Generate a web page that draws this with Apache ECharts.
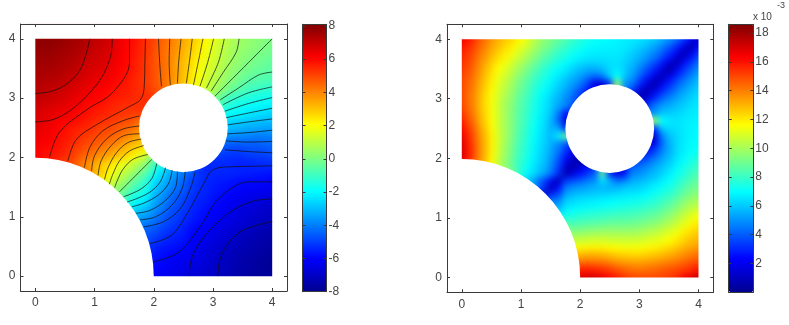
<!DOCTYPE html>
<html><head><meta charset="utf-8">
<style>html,body{margin:0;padding:0;background:#fff}
#f,#c{position:absolute;left:0;top:0;width:789px;height:325px}
#f{filter:blur(3px)}</style>
<script src="https://cdn.jsdelivr.net/npm/echarts@6/dist/echarts.min.js"></script>
</head><body><div id="f"></div><div id="c"></div>
<script>
const _ = null;
const axisTicks = [0, 1, 2, 3, 4];
const leftBarTicks = [-8, -6, -4, -2, 0, 2, 4, 6, 8];
const rightBarTicks = [2, 4, 6, 8, 10, 12, 14, 16, 18];
const jet = ['#00008f','#0000ff','#0080ff','#00ffff','#80ff80','#ffff00','#ff8000','#ff0000','#800000'];
const cellStep = 0.125;
const edgeBleed = 0.1;
const holes = [[0, 0, 2], [2.5, 2.5, 0.75]];
const frame = [[-0.25,-0.25,0,4.25],[4,-0.25,4.25,4.25],[-0.25,4,4.25,4.25],[-0.25,-0.25,4.25,0]];
// potential field, rows from y=4 down to y=0, columns x=0..4
const leftRows = [
[7.8,7.9,7.9,7.8,7.7,7.6,7.5,7.3,7.1,7.0,6.8,6.5,6.2,6.0,5.7,5.3,5.1,4.6,4.3,3.9,3.4,3.1,2.6,2.1,1.8,1.3,1.0,.7,.5,.3,.2,.1,0],
[7.8,7.8,7.8,7.7,7.6,7.5,7.4,7.2,7.0,6.9,6.7,6.4,6.2,5.9,5.6,5.3,5.0,4.5,4.2,3.8,3.3,3.0,2.5,2.0,1.6,1.2,.9,.6,.4,.3,.15,0,-.1],
[7.7,7.7,7.7,7.6,7.5,7.4,7.3,7.1,6.9,6.8,6.6,6.4,6.1,5.9,5.6,5.3,4.9,4.5,4.1,3.7,3.2,2.8,2.4,1.9,1.5,1.1,.8,.5,.3,.15,0,-.1,-.2],
[7.6,7.6,7.6,7.5,7.4,7.3,7.1,6.9,6.8,6.7,6.5,6.3,6.1,5.8,5.5,5.2,4.9,4.5,4.1,3.6,3.1,2.7,2.2,1.8,1.4,1.0,.7,.4,.2,0,-.15,-.3,-.4],
[7.5,7.5,7.5,7.4,7.3,7.2,7.0,6.8,6.7,6.6,6.4,6.2,6.0,5.8,5.5,5.2,4.9,4.5,4.1,3.6,3.1,2.6,2.1,1.6,1.3,.9,.5,.3,0,-.15,-.3,-.4,-.5],
[7.4,7.4,7.3,7.3,7.1,7.0,6.8,6.7,6.5,6.4,6.3,6.1,5.9,5.7,5.4,5.2,4.9,4.5,4.1,3.6,3.0,2.5,2.0,1.5,1.1,.7,.4,.1,-.2,-.4,-.5,-.6,-.7],
[7.3,7.2,7.2,7.1,7.0,6.8,6.7,6.5,6.4,6.3,6.1,6.0,5.8,5.6,5.4,5.2,4.9,4.5,4.0,3.5,3.0,2.4,1.9,1.4,.9,.5,.2,-.2,-.5,-.7,-.8,-.9,-1.0],
[7.2,7.1,7.0,7.0,6.8,6.7,6.5,6.4,6.2,6.1,6.0,5.8,5.7,5.6,5.4,5.3,5.0,4.7,4.2,3.7,3.1,2.4,1.8,1.2,.8,.3,-.2,-.5,-.8,-1.0,-1.2,-1.3,-1.3],
[7.0,7.0,6.9,6.8,6.7,6.5,6.4,6.2,6.1,6.0,5.8,5.7,5.6,5.5,5.4,5.4,5.3,5.2,4.8,_,_,_,1.2,.6,.1,-.4,-.9,-1.2,-1.3,-1.5,-1.6,-1.7,-1.8],
[6.9,6.8,6.7,6.6,6.5,6.3,6.2,6.0,5.9,5.8,5.6,5.5,5.4,5.4,5.4,5.4,5.4,_,_,_,_,_,_,_,-.5,-1,-1.4,-1.6,-1.8,-1.9,-2,-2.1,-2.1],
[6.8,6.6,6.5,6.4,6.3,6.2,6.0,5.9,5.7,5.6,5.5,5.4,5.3,5.2,5.2,5.1,5,_,_,_,_,_,_,_,-1,-1.5,-1.8,-2,-2.1,-2.3,-2.4,-2.5,-2.6],
[6.7,6.5,6.4,6.2,6.1,6,5.9,5.7,5.5,5.4,5.3,5.1,5,4.9,4.4,4.3,_,_,_,_,_,_,_,_,_,-2.2,-2.4,-2.6,-2.7,-2.8,-2.9,-3,-3],
[6.6,6.4,6.3,6.1,5.9,5.7,5.6,5.5,5.3,5.1,5,4.8,4.6,4.4,4.1,3.9,_,_,_,_,_,_,_,_,_,-2.8,-3,-3.1,-3.2,-3.3,-3.3,-3.4,-3.4],
[6.4,6.3,6.2,6,5.8,5.6,5.4,5.2,5,4.9,4.7,4.5,4.2,3.9,3.6,3.3,_,_,_,_,_,_,_,_,_,-3.5,-3.7,-3.8,-3.8,-3.9,-4,-4,-3.9],
[6.3,6.2,6.1,5.9,5.7,5.5,5.3,5,4.8,4.6,4.3,4.1,3.7,3.4,3.1,2.9,2.7,_,_,_,_,_,_,_,-3.9,-4.2,-4.3,-4.4,-4.4,-4.4,-4.4,-4.3,-4.3],
[6.2,6,5.9,5.8,5.6,5.3,5,4.7,4.4,4.1,3.8,3.5,3.2,2.8,2.4,2.2,1,_,_,_,_,_,_,_,-4.5,-4.8,-4.9,-5,-4.9,-4.8,-4.8,-4.7,-4.6],
[6.1,6,5.8,5.6,5.4,5.1,4.7,4.3,4,3.6,3.3,3,2.6,2.2,1.6,.9,0,-1,-1.8,_,_,_,-5,-5.1,-5.2,-5.2,-5.3,-5.3,-5.3,-5.2,-5.1,-5.1,-5],
[6,5.9,5.7,5.4,5.1,4.8,4.3,3.9,3.4,2.9,2.5,2,1.6,1.2,.6,0,-.9,-1.6,-2.9,-3.3,-3.9,-4.3,-5,-5.4,-5.4,-5.4,-5.4,-5.5,-5.5,-5.5,-5.4,-5.4,-5.3],
[_,_,_,_,5.5,5.1,4.6,4,3.4,2.8,2.1,1.6,1.1,.6,0,-.6,-1.6,-2.4,-3.1,-3.6,-4.1,-4.4,-5.2,-5.4,-5.4,-5.4,-5.4,-5.4,-5.5,-5.5,-5.6,-5.6,-5.7],
[_,_,_,_,_,_,_,3.4,2.9,2.4,1.7,1.2,.6,0,-.6,-1.2,-2.2,-2.8,-3.4,-3.9,-4.4,-4.9,-5.2,-5.4,-5.5,-5.6,-5.6,-5.7,-5.8,-5.8,-5.9,-5.9,-6],
[_,_,_,_,_,_,_,_,_,1.8,1.1,.5,0,-.6,-1.1,-1.6,-2.6,-3.2,-3.7,-4.2,-4.6,-5,-5.3,-5.4,-5.6,-5.7,-5.8,-5.9,-6,-6.1,-6.1,-6.2,-6.2],
[_,_,_,_,_,_,_,_,_,_,.7,0,-.5,-1.2,-1.6,-2,-3,-3.5,-4.1,-4.5,-4.8,-5.1,-5.4,-5.5,-5.7,-5.8,-6,-6.1,-6.2,-6.3,-6.4,-6.4,-6.5],
[_,_,_,_,_,_,_,_,_,_,_,-.7,-1.1,-1.7,-2.1,-2.5,-3.3,-3.8,-4.3,-4.7,-5,-5.3,-5.5,-5.6,-5.8,-6,-6.1,-6.3,-6.4,-6.5,-6.6,-6.7,-6.8],
[_,_,_,_,_,_,_,_,_,_,_,_,-1.8,-2.4,-2.8,-3.1,-3.6,-4.1,-4.6,-4.9,-5.1,-5.4,-5.6,-5.8,-6,-6.1,-6.3,-6.4,-6.6,-6.7,-6.8,-6.9,-7],
[_,_,_,_,_,_,_,_,_,_,_,_,_,-2.9,-3.4,-3.6,-4,-4.4,-4.8,-5,-5.3,-5.5,-5.7,-5.9,-6.1,-6.2,-6.4,-6.5,-6.7,-6.8,-6.9,-7,-7.1],
[_,_,_,_,_,_,_,_,_,_,_,_,_,-3.4,-4,-4.2,-4.4,-4.7,-5,-5.2,-5.5,-5.7,-5.9,-6,-6.2,-6.4,-6.5,-6.7,-6.8,-6.9,-7.1,-7.2,-7.3],
[_,_,_,_,_,_,_,_,_,_,_,_,_,_,-4.6,-4.5,-4.7,-5,-5.3,-5.4,-5.6,-5.9,-6,-6.2,-6.4,-6.5,-6.7,-6.8,-7,-7.1,-7.3,-7.4,-7.5],
[_,_,_,_,_,_,_,_,_,_,_,_,_,_,-4.8,-4.8,-5.1,-5.3,-5.5,-5.6,-5.7,-6,-6.2,-6.3,-6.5,-6.7,-6.8,-7,-7.2,-7.3,-7.4,-7.5,-7.6],
[_,_,_,_,_,_,_,_,_,_,_,_,_,_,-5.1,-5.1,-5.4,-5.6,-5.7,-5.8,-5.9,-6.1,-6.3,-6.5,-6.7,-6.8,-7,-7.1,-7.3,-7.4,-7.5,-7.6,-7.7],
[_,_,_,_,_,_,_,_,_,_,_,_,_,_,_,-5.4,-5.6,-5.8,-5.9,-6,-6.1,-6.2,-6.4,-6.6,-6.8,-7,-7.1,-7.3,-7.4,-7.5,-7.6,-7.7,-7.8],
[_,_,_,_,_,_,_,_,_,_,_,_,_,_,_,-5.7,-5.8,-5.9,-6.1,-6.2,-6.3,-6.4,-6.5,-6.7,-6.9,-7,-7.2,-7.3,-7.5,-7.6,-7.7,-7.8,-7.9],
[_,_,_,_,_,_,_,_,_,_,_,_,_,_,_,-5.9,-6,-6,-6.2,-6.3,-6.4,-6.5,-6.6,-6.8,-7,-7.1,-7.2,-7.4,-7.5,-7.6,-7.7,-7.8,-7.9],
[_,_,_,_,_,_,_,_,_,_,_,_,_,_,_,-6,-6.1,-6.2,-6.3,-6.4,-6.6,-6.7,-6.8,-6.9,-7,-7.2,-7.3,-7.5,-7.6,-7.7,-7.8,-7.8,-7.8]
];
// magnitude field (units of 1e-3), rows from y=4 down to y=0
const rightRows = [
[16.5,16,15,14.3,13.5,13,12.6,12.2,11.6,11,10.2,9.6,9.2,8.8,8.4,8,7.6,7.3,7.1,7,6.9,6.8,6.7,6.6,6.5,6.3,6,5.6,5,4.3,3.4,2.3,1],
[16,15.5,14.8,14,13.3,12.8,12.3,11.8,11.2,10.6,10,9.4,8.9,8.4,8,7.6,7.3,7,6.9,6.8,6.8,6.7,6.6,6.4,6.1,5.8,5.3,4.7,4,3.1,2,.6,2.3],
[15.7,15.2,14.5,13.7,13,12.4,11.9,11.3,10.7,10.1,9.5,8.9,8.4,7.9,7.5,7.2,6.9,6.7,6.6,6.6,6.6,6.6,6.4,6.1,5.7,5.3,4.7,4,3.1,2,.6,2,3.4],
[15.5,15,14.2,13.4,12.6,12,11.4,10.8,10.2,9.6,9,8.4,7.9,7.5,7.1,6.8,6.5,6.3,6.3,6.3,6.4,6.4,6.2,5.8,5.3,4.7,4,3,1.9,.5,2,3.1,4.3],
[15.3,14.8,14,13.1,12.3,11.6,11,10.4,9.7,9.1,8.5,7.9,7.4,7,6.6,6.2,5.8,5.5,5.5,5.8,6.3,6.6,6.1,5.5,4.7,3.9,3,1.9,.5,1.9,3.1,4,5],
[15.1,14.6,13.8,12.9,12,11.3,10.7,10,9.3,8.7,8.1,7.6,7.1,6.6,6.1,5.7,5.2,4.6,4.1,4.5,6,7,6,5.1,4.1,3,1.9,.5,1.9,3,3.9,4.7,5.6],
[15,14.4,13.6,12.7,11.8,11.1,10.4,9.7,9,8.4,7.8,7.3,6.8,6.2,5.7,5.2,4.5,3.4,1.8,1.5,3,10,5,4.5,3,1.8,.6,1.9,3,4,4.7,5.3,6],
[15,14.3,13.5,12.5,11.7,10.9,10.2,9.5,8.8,8.2,7.6,7,6.5,5.9,5.3,4.6,3.6,2.6,1.6,1,3,8,5,3,1.4,.5,1.8,3,3.9,4.7,5.3,5.8,6.3],
[15,14.2,13.4,12.4,11.5,10.8,10,9.3,8.6,8,7.4,6.8,6.2,5.6,4.9,4.2,3.4,2.6,2,_,_,_,2,2,1,1.4,3,4.1,4.7,5.3,5.7,6.1,6.5],
[15.1,14.3,13.4,12.4,11.5,10.7,9.9,9.2,8.5,7.9,7.3,6.7,6.1,5.4,4.7,3.9,3,_,_,_,_,_,_,_,1.5,3,4.5,5.1,5.5,5.8,6.1,6.4,6.6],
[15.4,14.5,13.5,12.5,11.5,10.7,9.9,9.1,8.4,7.8,7.2,6.6,6,4.6,2.5,2.5,2.5,_,_,_,_,_,_,_,2,5,5,6,6.1,6.2,6.4,6.6,6.7],
[15.8,14.8,13.7,12.6,11.6,10.7,9.9,9.1,8.4,7.7,7.1,6.5,5.7,4.3,1.5,3,_,_,_,_,_,_,_,_,_,8,10,7,6.6,6.4,6.6,6.7,6.8],
[16.2,15.2,14,12.8,11.7,10.7,9.9,9.1,8.3,7.6,7,6.4,5.6,5.5,3,5,_,_,_,_,_,_,_,_,_,3,3,6,6.3,6.4,6.6,6.8,6.9],
[16.6,15.5,14.2,13,11.8,10.8,9.9,9,8.2,7.5,6.9,6.3,5.7,6.5,9,7,_,_,_,_,_,_,_,_,_,1.5,1.5,4.5,5.8,6.3,6.6,6.8,7],
[17,15.7,14.3,13.1,11.8,10.8,9.8,8.9,8.1,7.4,6.8,6.2,5.6,4.9,4,3,3,_,_,_,_,_,_,_,2,1.6,1.8,4.1,5.5,6.3,6.6,6.9,7.1],
[17.1,15.8,14.4,13.1,11.8,10.7,9.7,8.8,8,7.3,6.7,6.1,5.4,4.5,3.2,2.2,1.2,_,_,_,_,_,_,_,2.6,2.6,3.4,4.6,5.5,6.3,6.7,7,7.3],
[17,15.8,14.3,13,11.7,10.6,9.6,8.7,7.9,7.2,6.6,6,5.2,4,2.5,1.2,.5,1.2,3,_,_,_,2.5,3,3.4,3.6,4.5,5.2,5.8,6.5,6.9,7.3,7.6],
[16,15,14,13,11.6,10.4,9.4,8.5,7.7,7,6.4,5.8,5,3.6,1.5,.5,1.2,2.2,3,7,5,3,2.5,3.9,4.2,4.6,5.2,5.7,6.2,6.8,7.2,7.6,8],
[_,_,_,_,12,11,10,9,7.6,6.8,6.2,5.5,4.6,3.2,.6,1.5,2.5,3.2,4,9,3,1.5,2.5,4.7,4.9,5.3,5.7,6.1,6.6,7.1,7.5,8,8.4],
[_,_,_,_,_,_,_,8,7,6,5,3.8,2.5,.7,3.2,3.6,4,4.5,4.9,6.5,5.5,4.3,4.6,5.4,5.6,5.9,6.2,6.6,7,7.5,7.9,8.4,8.8],
[_,_,_,_,_,_,_,_,_,6,5,3.2,.8,2.5,4.6,5,5.2,5.4,5.6,5.7,5.6,5.7,6,6.1,6.2,6.5,6.8,7.1,7.4,7.9,8.4,8.9,9.2],
[_,_,_,_,_,_,_,_,_,_,3,1,3.2,3.8,5.5,5.8,6,6.1,6.2,6.3,6.4,6.5,6.6,6.7,6.8,7,7.3,7.6,7.9,8.4,8.9,9.4,9.6],
[_,_,_,_,_,_,_,_,_,_,_,3,5,5,6.2,6.4,6.6,6.7,6.8,6.9,7,7.1,7.2,7.3,7.4,7.6,7.8,8.1,8.5,9,9.5,10,10.2],
[_,_,_,_,_,_,_,_,_,_,_,_,6,6,6.8,7,7.2,7.3,7.4,7.5,7.6,7.7,7.8,7.9,8,8.2,8.4,8.7,9.1,9.6,10.1,10.6,11],
[_,_,_,_,_,_,_,_,_,_,_,_,_,7,7.6,7.7,7.9,8,8.1,8.2,8.3,8.4,8.4,8.5,8.6,8.8,9,9.3,9.7,10.2,10.7,11.2,11.6],
[_,_,_,_,_,_,_,_,_,_,_,_,_,8,9,8.5,8.7,8.8,8.9,9,9.1,9.1,9.1,9.2,9.3,9.5,9.7,10,10.4,10.8,11.3,11.8,12.2],
[_,_,_,_,_,_,_,_,_,_,_,_,_,_,10,9.4,9.6,9.7,9.8,9.9,9.9,9.9,9.9,9.9,10,10.2,10.4,10.7,11,11.4,11.9,12.3,12.6],
[_,_,_,_,_,_,_,_,_,_,_,_,_,_,11,10.4,10.6,10.7,10.8,10.8,10.7,10.7,10.7,10.7,10.8,10.9,11.1,11.3,11.6,12,12.4,12.8,13],
[_,_,_,_,_,_,_,_,_,_,_,_,_,_,12,11.6,11.7,11.8,11.8,11.8,11.7,11.6,11.5,11.5,11.5,11.7,11.8,12,12.3,12.6,13,13.3,13.5],
[_,_,_,_,_,_,_,_,_,_,_,_,_,_,_,13,13,13.1,13.1,13,12.8,12.6,12.5,12.4,12.4,12.5,12.7,12.9,13.1,13.4,13.7,14,14.3],
[_,_,_,_,_,_,_,_,_,_,_,_,_,_,_,14,14.3,14.4,14.3,14.2,14,13.7,13.5,13.4,13.4,13.5,13.6,13.8,14,14.2,14.5,14.8,15],
[_,_,_,_,_,_,_,_,_,_,_,_,_,_,_,15,15.8,15.8,15.7,15.5,15.2,14.8,14.5,14.3,14.2,14.3,14.4,14.6,14.8,15,15.2,15.5,16],
[_,_,_,_,_,_,_,_,_,_,_,_,_,_,_,16,17,17.1,17,16.6,16.2,15.8,15.4,15.1,15,15,15,15.1,15.3,15.5,16.4,16.8,17.5]
];
const contourLines = [
[[.92,4],[.86,3.75],[.74,3.45],[.5,3.22],[.25,3.11],[0,3.08]],
[[1.3,4],[1.27,3.7],[1.12,3.35],[.88,3.05],[.6,2.8],[.3,2.64],[0,2.6]],
[[1.59,4],[1.59,3.6],[1.31,3.1],[.86,2.8],[.41,2.43],[.24,2]],
[[1.86,4],[1.85,3.6],[1.84,3.2],[1.78,2.98],[1.59,2.86],[1.03,2.55],[.69,2.3],[.55,1.94]],
[[1.76,2.7],[1.48,2.62],[1.14,2.45],[.92,2.17],[.83,1.83]],
[[1.76,2.53],[1.48,2.48],[1.2,2.31],[1,2.03],[.95,1.77]],
[[1.76,2.4],[1.5,2.37],[1.28,2.2],[1.11,1.94],[1.06,1.7]],
[[1.79,2.31],[1.56,2.25],[1.37,2.08],[1.23,1.83],[1.17,1.63]],
[[1.83,2.2],[1.59,2.11],[1.42,1.94],[1.31,1.72],[1.25,1.55]],
[[1.9,2.05],[1.65,1.97],[1.48,1.8],[1.38,1.6],[1.34,1.49]],
[[2.08,4],[2.1,3.6],[2.13,3.2]],
[[2.27,4],[2.26,3.6],[2.28,3.22]],
[[2.46,4],[2.42,3.6],[2.4,3.25]],
[[2.65,4],[2.6,3.6],[2.55,3.25]],
[[2.83,4],[2.75,3.6],[2.67,3.22]],
[[3.01,4],[2.91,3.6],[2.78,3.2]],
[[3.19,4],[3.09,3.6],[2.89,3.17]],
[[3.44,4],[3.39,3.77],[3.17,3.43],[2.97,3.12]],
[[3.03,3.03],[4,4]],
[[1.42,1.42],[1.97,1.97]],
[[4,.92],[3.75,.86],[3.45,.74],[3.22,.5],[3.11,.25],[3.08,0]],
[[4,1.3],[3.7,1.27],[3.35,1.12],[3.05,.88],[2.8,.6],[2.64,.3],[2.6,0]],
[[4,1.59],[3.6,1.59],[3.1,1.31],[2.8,.86],[2.43,.41],[2,.24]],
[[4,1.86],[3.6,1.85],[3.2,1.84],[2.98,1.78],[2.86,1.59],[2.55,1.03],[2.3,.69],[1.94,.55]],
[[2.7,1.76],[2.62,1.48],[2.45,1.14],[2.17,.92],[1.83,.83]],
[[2.53,1.76],[2.48,1.48],[2.31,1.2],[2.03,1],[1.77,.95]],
[[2.4,1.76],[2.37,1.5],[2.2,1.28],[1.94,1.11],[1.7,1.06]],
[[2.31,1.79],[2.25,1.56],[2.08,1.37],[1.83,1.23],[1.63,1.17]],
[[2.2,1.83],[2.11,1.59],[1.94,1.42],[1.72,1.31],[1.55,1.25]],
[[2.05,1.9],[1.97,1.65],[1.8,1.48],[1.6,1.38],[1.49,1.34]],
[[4,2.08],[3.6,2.1],[3.2,2.13]],
[[4,2.27],[3.6,2.26],[3.22,2.28]],
[[4,2.46],[3.6,2.42],[3.25,2.4]],
[[4,2.65],[3.6,2.6],[3.25,2.55]],
[[4,2.83],[3.6,2.75],[3.22,2.67]],
[[4,3.01],[3.6,2.91],[3.2,2.78]],
[[4,3.19],[3.6,3.09],[3.17,2.89]],
[[4,3.44],[3.77,3.39],[3.43,3.17],[3.12,2.97]]
];

function cellsFrom(rows) {
  const out = [];
  rows.forEach((row, r) => row.forEach((v, c) => {
    if (v !== null) out.push([c * cellStep, 4 - r * cellStep, v]);
  }));
  return out;
}
function renderCell(params, api) {
  const h = cellStep / 2, x = api.value(0), y = api.value(1);
  const x0 = x - h - (x === 0 ? edgeBleed : 0), x1 = x + h + (x === 4 ? edgeBleed : 0);
  const y0 = y - h - (y === 0 ? edgeBleed : 0), y1 = y + h + (y === 4 ? edgeBleed : 0);
  const a = api.coord([x0, y1]), b = api.coord([x1, y0]);
  const left = Math.round(a[0]), top = Math.round(a[1]);
  return { type: 'rect', shape: { x: left, y: top, width: Math.round(b[0]) - left, height: Math.round(b[1]) - top },
           style: { fill: api.visual('color') } };
}
function renderHole(params, api) {
  const c = api.coord([api.value(0), api.value(1)]);
  return { type: 'circle', shape: { cx: c[0], cy: c[1], r: api.size([api.value(2), 0])[0] }, style: { fill: '#fff' } };
}
function renderFrame(params, api) {
  const a = api.coord([api.value(0), api.value(3)]), b = api.coord([api.value(2), api.value(1)]);
  return { type: 'rect', shape: { x: a[0], y: a[1], width: b[0] - a[0], height: b[1] - a[1] }, style: { fill: '#fff' } };
}
const lineColor = '#3a3a3a', textColor = '#444';
const label = { color: textColor, fontFamily: 'Liberation Sans', fontSize: 12 };
function xAxes(g, ticks, min, max) {
  return [
    { gridIndex: g, type: 'value', position: 'bottom', min, max, z: 5, splitLine: { show: false },
      axisLine: { onZero: false, lineStyle: { color: lineColor } },
      axisTick: ticks ? { show: true, inside: true, length: 3, customValues: ticks, lineStyle: { color: lineColor } } : { show: false },
      axisLabel: ticks ? Object.assign({ show: true, margin: 6, customValues: ticks }, label) : { show: false } },
    { gridIndex: g, type: 'value', position: 'top', min, max, z: 5, splitLine: { show: false },
      axisLine: { onZero: false, lineStyle: { color: lineColor } },
      axisTick: ticks ? { show: true, inside: true, length: 3, customValues: ticks, lineStyle: { color: lineColor } } : { show: false },
      axisLabel: { show: false } }
  ];
}
function yAxes(g, ticks, min, max, bar) {
  return [
    { gridIndex: g, type: 'value', position: 'left', min, max, z: 5, splitLine: { show: false },
      axisLine: { onZero: false, lineStyle: { color: lineColor } },
      axisTick: { show: true, inside: true, length: 3, customValues: ticks, lineStyle: { color: lineColor } },
      axisLabel: bar ? { show: false } : Object.assign({ show: true, margin: 5, customValues: ticks }, label) },
    { gridIndex: g, type: 'value', position: 'right', min, max, z: 5, splitLine: { show: false },
      axisLine: { onZero: false, lineStyle: { color: lineColor } },
      axisTick: { show: true, inside: true, length: 3, customValues: ticks, lineStyle: { color: lineColor } },
      axisLabel: bar ? Object.assign({ show: true, inside: false, margin: 2, customValues: ticks }, label) : { show: false } }
  ];
}
const mainGrids = [
  { left: 20.5, top: 24, width: 266.5, height: 267 },
  { left: 447, top: 24.3, width: 266.3, height: 268 }
];
const barGrids = [
  { left: 302.5, top: 24.3, width: 24, height: 267.4 },
  { left: 728.7, top: 24.3, width: 24.6, height: 268 }
];
const base = { coordinateSystem: 'cartesian2d', silent: true, animation: false, clip: true };

// lower layer: the two value fields, softened by the CSS filter on its container
const hiddenAxis = g => ({ gridIndex: g, type: 'value', min: -0.25, max: 4.25, show: false });
const fieldChart = echarts.init(document.getElementById('f'), null, { renderer: 'canvas' });
fieldChart.setOption({
  animation: false,
  grid: mainGrids,
  xAxis: [hiddenAxis(0), hiddenAxis(1)],
  yAxis: [hiddenAxis(0), hiddenAxis(1)],
  visualMap: [
    { type: 'continuous', show: false, seriesIndex: 0, dimension: 2, min: -8, max: 8.1, inRange: { color: jet } },
    { type: 'continuous', show: false, seriesIndex: 1, dimension: 2, min: 0, max: 18.6, inRange: { color: jet } }
  ],
  series: [
    Object.assign({ type: 'custom', xAxisIndex: 0, yAxisIndex: 0, encode: { x: 0, y: 1 }, data: cellsFrom(leftRows), renderItem: renderCell }, base),
    Object.assign({ type: 'custom', xAxisIndex: 1, yAxisIndex: 1, encode: { x: 0, y: 1 }, data: cellsFrom(rightRows), renderItem: renderCell }, base)
  ]
});

// upper layer: masks, contours, axes, colour bars and text
const maskSeries = (ax, data, fn) => Object.assign({ type: 'custom', xAxisIndex: ax, yAxisIndex: ax, encode: { x: 0, y: 1 }, data, renderItem: fn, z: 3 }, base);
const leftLines = contourLines.map(pts => ({
  type: 'line', xAxisIndex: 0, yAxisIndex: 0, data: pts, smooth: 0.35, showSymbol: false, silent: true, z: 6,
  animation: false, lineStyle: { color: '#111', width: 0.8, opacity: 0.9 }
}));
const chart = echarts.init(document.getElementById('c'), null, { renderer: 'canvas' });
chart.setOption({
  backgroundColor: 'transparent',
  animation: false,
  grid: mainGrids.concat(barGrids),
  xAxis: [].concat(xAxes(0, axisTicks, -0.25, 4.25), xAxes(1, axisTicks, -0.25, 4.25), xAxes(2, null, 0, 1), xAxes(3, null, 0, 1)),
  yAxis: [].concat(yAxes(0, axisTicks, -0.25, 4.25, false), yAxes(1, axisTicks, -0.25, 4.25, false),
                   yAxes(2, leftBarTicks, -8, 8.1, true), yAxes(3, rightBarTicks, 0, 18.6, true)),
  visualMap: [
    { type: 'continuous', seriesIndex: [], min: -8, max: 8.1, calculable: false, padding: 0,
      left: 302.5, top: 24.3, itemWidth: 24, itemHeight: 267.4, inRange: { color: jet }, textStyle: { fontSize: 0 } },
    { type: 'continuous', seriesIndex: [], min: 0, max: 18.6, calculable: false, padding: 0,
      left: 728.7, top: 24.3, itemWidth: 24.6, itemHeight: 268, inRange: { color: jet }, textStyle: { fontSize: 0 } }
  ],
  graphic: [
    { type: 'text', left: 753, top: 12, style: { text: 'x 10', fill: textColor, font: '10px "Liberation Sans"' } },
    { type: 'text', left: 777, top: 1, style: { text: '-3', fill: textColor, font: '9px "Liberation Sans"' } }
  ],
  series: [
    maskSeries(0, frame, renderFrame), maskSeries(0, holes, renderHole),
    maskSeries(2, frame, renderFrame), maskSeries(2, holes, renderHole)
  ].concat(leftLines)
});
</script></body></html>
